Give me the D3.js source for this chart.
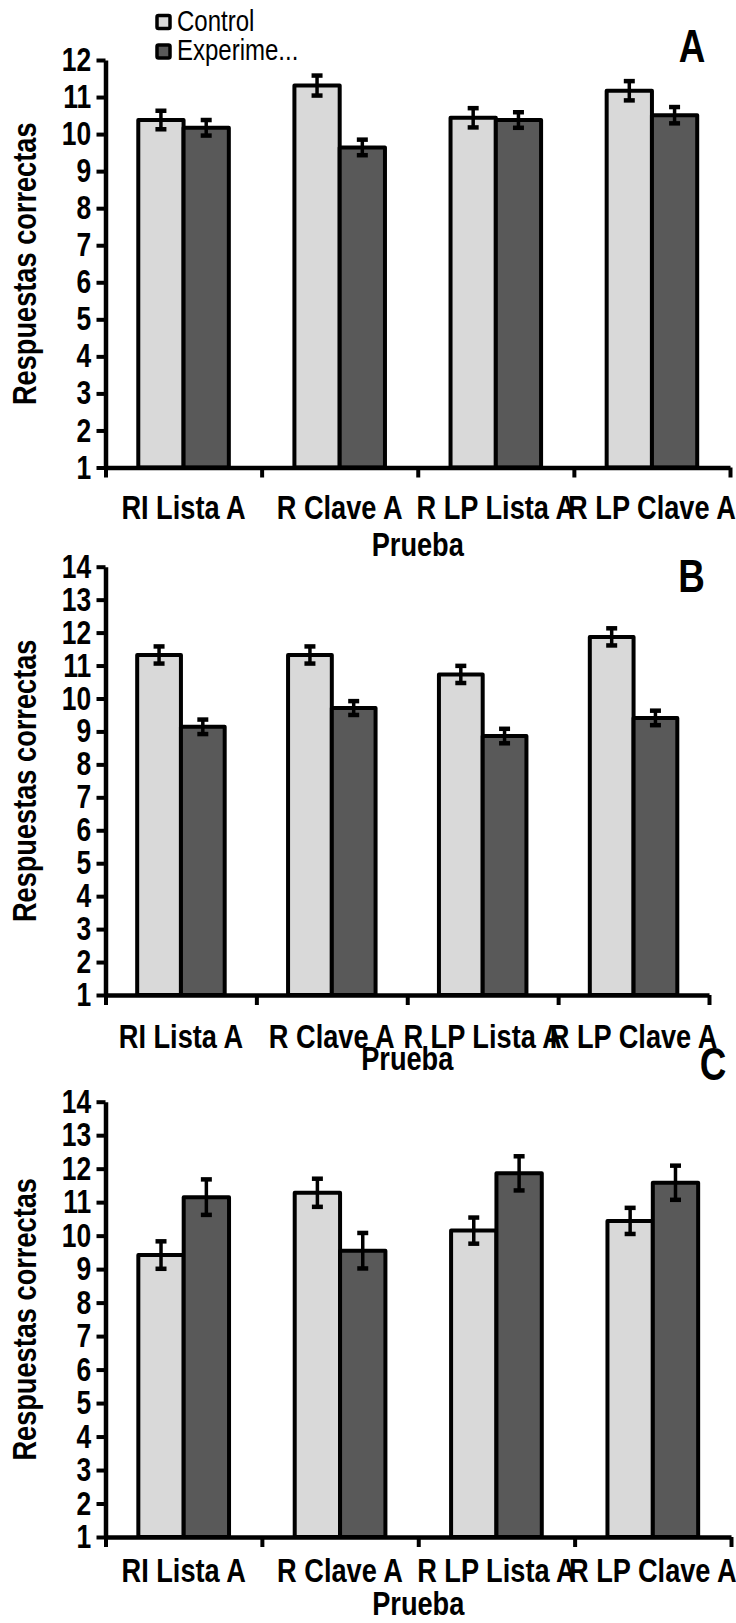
<!DOCTYPE html>
<html>
<head>
<meta charset="utf-8">
<script src="https://cdn.jsdelivr.net/npm/d3@7"></script>
<style>
  body { margin: 0; background: #fff; }
  svg { display: block; }
  text { font-family: "Liberation Sans", Arial, sans-serif; fill: #000; }
</style>
</head>
<body>
<div id="chart"></div>
<script>
// three stacked bar charts (A, B, C) with error bars

const width = 736;
const height = 1623;

const categories = ['RI Lista A', 'R Clave A', 'R LP Lista A', 'R LP Clave A'];
const seriesNames = ['Control', 'Experime...'];
const seriesColors = ['#d9d9d9', '#595959'];

// panel A
const controlA = [10.38, 11.31, 10.44, 11.17];
const controlErrA = [0.25, 0.27, 0.26, 0.26];
const experimA = [10.17, 9.64, 10.38, 10.51];
const experimErrA = [0.21, 0.21, 0.21, 0.22];
const ticksA = [1, 2, 3, 4, 5, 6, 7, 8, 9, 10, 11, 12];

// panel B
const controlB = [11.32, 11.32, 10.73, 11.87];
const controlErrB = [0.26, 0.26, 0.26, 0.26];
const experimB = [9.14, 9.71, 8.86, 9.41];
const experimErrB = [0.22, 0.21, 0.22, 0.22];
const ticksB = [1, 2, 3, 4, 5, 6, 7, 8, 9, 10, 11, 12, 13, 14];

// panel C
const controlC = [9.42, 11.28, 10.15, 10.44];
const controlErrC = [0.41, 0.42, 0.39, 0.39];
const experimC = [11.15, 9.55, 11.86, 11.58];
const experimErrC = [0.53, 0.53, 0.51, 0.51];
const ticksC = [1, 2, 3, 4, 5, 6, 7, 8, 9, 10, 11, 12, 13, 14];

const yTitle = 'Respuestas correctas';
const xTitle = 'Prueba';

// no narrow font installed, so squeeze Liberation Sans horizontally
const narrow = 0.8;

const svg = d3.select('#chart')
  .append('svg')
  .attr('width', width)
  .attr('height', height);

function label(parent, x, y, txt, size, opts = {}) {
  return parent.append('text')
    .attr('transform', `translate(${x},${y})${opts.rotate ? ' rotate(-90)' : ''} scale(${narrow},1)`)
    .attr('text-anchor', opts.anchor || 'middle')
    .style('font-size', size + 'px')
    .style('font-weight', opts.weight || 'bold')
    .text(txt);
}

function drawPanel(p) {
  const g = svg.append('g');

  const y = d3.scaleLinear()
    .domain([p.ticks[0], p.ticks[p.ticks.length - 1]])
    .range([p.yBot, p.yTop]);

  // outer padding = half the inner one so each pair sits centred in its slot
  const x = d3.scaleBand()
    .domain(categories)
    .range([p.x0, p.x1])
    .paddingInner(0.42)
    .paddingOuter(0.21);

  const xs = d3.scaleBand()
    .domain(seriesNames)
    .range([0, x.bandwidth()]);

  // boundaries between categories for the tick marks
  const xEdge = d3.scaleLinear()
    .domain([0, categories.length])
    .range([p.x0, p.x1]);

  const rows = categories.map((c, i) => ({
    cat: c,
    vals: [
      { s: seriesNames[0], v: p.control[i], e: p.controlErr[i], fill: seriesColors[0] },
      { s: seriesNames[1], v: p.experim[i], e: p.experimErr[i], fill: seriesColors[1] }
    ]
  }));

  // bars
  const grp = g.selectAll('.cat')
    .data(rows)
    .enter().append('g')
    .attr('transform', d => `translate(${x(d.cat)},0)`);

  grp.selectAll('rect')
    .data(d => d.vals)
    .enter().append('rect')
    .attr('x', d => xs(d.s))
    .attr('y', d => y(d.v))
    .attr('width', xs.bandwidth())
    .attr('height', d => y(p.ticks[0]) - y(d.v))
    .attr('fill', d => d.fill)
    .attr('stroke', '#000')
    .attr('stroke-width', 4)
    .attr('stroke-linejoin', 'round');

  // error bars
  const eb = grp.selectAll('.err')
    .data(d => d.vals)
    .enter().append('g')
    .attr('transform', d => `translate(${xs(d.s) + xs.bandwidth() / 2},0)`);

  eb.append('line')
    .attr('y1', d => y(d.v - d.e))
    .attr('y2', d => y(d.v + d.e))
    .attr('stroke', '#000')
    .attr('stroke-width', 3.5);

  eb.selectAll('.cap')
    .data(d => [d.v - d.e, d.v + d.e])
    .enter().append('line')
    .attr('x1', -5.5)
    .attr('x2', 5.5)
    .attr('y1', d => y(d))
    .attr('y2', d => y(d))
    .attr('stroke', '#000')
    .attr('stroke-width', 4.5);

  // y axis
  const yAxis = g.append('g')
    .attr('transform', `translate(${p.x0},0)`)
    .call(d3.axisLeft(y).tickValues(p.ticks).tickFormat(d3.format('d'))
      .tickSize(9).tickSizeOuter(0).tickPadding(9));
  yAxis.select('.domain').attr('stroke-width', 4.5);
  yAxis.selectAll('.tick line').attr('stroke-width', 4);
  yAxis.selectAll('.tick text')
    .attr('transform', `scale(${narrow},1)`)
    .style('font-size', '33px')
    .style('font-weight', 'bold');

  // x axis: tick marks at category boundaries
  const xAxis = g.append('g')
    .attr('transform', `translate(0,${p.yBot})`)
    .call(d3.axisBottom(xEdge).tickValues(d3.range(categories.length + 1))
      .tickSize(10).tickSizeOuter(0).tickFormat(''));
  xAxis.select('.domain').attr('stroke-width', 4.5);
  xAxis.selectAll('.tick line').attr('stroke-width', 4);

  // category labels
  categories.forEach(c => label(g, x(c) + x.bandwidth() / 2, p.labelY, c, 34));

  label(g, (p.x0 + p.x1) / 2, p.titleY, xTitle, 34);
  label(g, 36, (p.yTop + p.yBot) / 2, yTitle, 34, { rotate: true });

  // panel letter
  label(g, p.letterX, p.letterY, p.letter, 46);
}

drawPanel({
  letter: 'A', control: controlA, controlErr: controlErrA, experim: experimA, experimErr: experimErrA,
  ticks: ticksA, x0: 105.5, x1: 730, yTop: 60, yBot: 467.5,
  labelY: 519, titleY: 556, letterX: 692, letterY: 62
});
drawPanel({
  letter: 'B', control: controlB, controlErr: controlErrB, experim: experimB, experimErr: experimErrB,
  ticks: ticksB, x0: 105.5, x1: 709, yTop: 566.7, yBot: 995,
  labelY: 1048, titleY: 1070, letterX: 691.5, letterY: 592
});
drawPanel({
  letter: 'C', control: controlC, controlErr: controlErrC, experim: experimC, experimErr: experimErrC,
  ticks: ticksC, x0: 105.5, x1: 731, yTop: 1101.7, yBot: 1537,
  labelY: 1582, titleY: 1615, letterX: 713, letterY: 1080
});

// legend (top of panel A)
const legend = svg.append('g');
const li = legend.selectAll('g')
  .data(seriesNames)
  .enter().append('g')
  .attr('transform', (d, i) => `translate(157,${15.5 + i * 29.5})`);

li.append('rect')
  .attr('width', 13)
  .attr('height', 13)
  .attr('rx', 1.5)
  .attr('fill', (d, i) => seriesColors[i])
  .attr('stroke', '#000')
  .attr('stroke-width', 3.5);

li.each(function (d) {
  label(d3.select(this), 20, 15, d, 30, { anchor: 'start', weight: 'normal' });
});
</script>
</body>
</html>
